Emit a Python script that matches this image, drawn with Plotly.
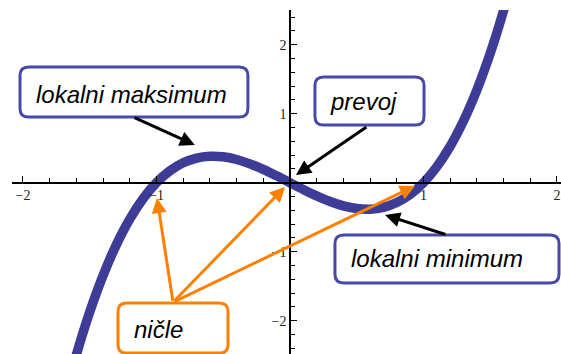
import plotly.graph_objects as go

# Curve samples
curve_x = [-1.7, -1.6, -1.5, -1.4, -1.3, -1.2, -1.1, -1.0, -0.9, -0.8, -0.7, -0.6, -0.5, -0.4, -0.3, -0.2, -0.1,
           0.0, 0.1, 0.2, 0.3, 0.4, 0.5, 0.6, 0.7, 0.8, 0.9, 1.0, 1.1, 1.2, 1.3, 1.4, 1.5, 1.6, 1.7]
curve_y = [-3.213, -2.496, -1.875, -1.344, -0.897, -0.528, -0.231, 0.0, 0.171, 0.288, 0.357, 0.384, 0.375, 0.336,
           0.273, 0.192, 0.099, 0.0, -0.099, -0.192, -0.273, -0.336, -0.375, -0.384, -0.357, -0.288, -0.171, 0.0,
           0.231, 0.528, 0.897, 1.344, 1.875, 2.496, 3.213]

x_tick_vals = [-2, -1, 1, 2]
x_tick_text = ["\u22122", "\u22121", "1", "2"]
y_tick_vals = [-2, -1, 1, 2]
y_tick_text = ["\u22122", "\u22121", "1", "2"]

labels = ["lokalni maksimum", "prevoj", "lokalni minimum", "ni\u010dle"]

XR = [-2.082, 2.030]
YR = [-2.483, 2.503]

NAVY = "#3d3d98"
BOX_BLUE = "#4848aa"
ORANGE = "#ff8000"

fig = go.Figure()
fig.add_trace(go.Scatter(x=curve_x, y=curve_y, mode="lines", line=dict(color=NAVY, width=9.5, shape="spline"),
                         hoverinfo="skip", showlegend=False))


def rounded_box(x0, x1, y0, y1, rx=0.065, ry=0.125):
    # y0 bottom, y1 top
    return (f"M {x0+rx},{y1} L {x1-rx},{y1} Q {x1},{y1} {x1},{y1-ry} "
            f"L {x1},{y0+ry} Q {x1},{y0} {x1-rx},{y0} "
            f"L {x0+rx},{y0} Q {x0},{y0} {x0},{y0+ry} "
            f"L {x0},{y1-ry} Q {x0},{y1} {x0+rx},{y1} Z")


boxes = [
    (-2.022, -0.315, 0.952, 1.677, BOX_BLUE),
    (0.187, 1.004, 0.836, 1.532, BOX_BLUE),
    (0.337, 2.015, -1.453, -0.758, BOX_BLUE),
    (-1.288, -0.464, -2.47, -1.745, ORANGE),
]
for (x0, x1, y0, y1, c) in boxes:
    fig.add_shape(type="path", path=rounded_box(x0, x1, y0, y1), xref="x", yref="y",
                  line=dict(color=c, width=3), fillcolor="white", layer="above")

text_pos = [(-1.185, 1.28), (0.548, 1.18), (1.098, -1.10), (-0.985, -2.13)]
for t, (tx, ty) in zip(labels, text_pos):
    fig.add_annotation(x=tx, y=ty, xref="x", yref="y", text=f"<i>{t}</i>", showarrow=False,
                       font=dict(family="Liberation Sans, Arial", size=24, color="black"),
                       xanchor="center", yanchor="middle")

# arrows: (tail, tip, colour, width)
arrows = [
    ((-1.176, 0.952), (-0.712, 0.546), "black", 3),
    ((0.584, 0.822), (0.045, 0.11), "black", 3),
    ((1.176, -0.758), (0.712, -0.468), "black", 3),
    ((-0.876, -1.733), (-0.996, -0.222), ORANGE, 3),
    ((-0.876, -1.733), (-0.037, -0.062), ORANGE, 3),
    ((-0.876, -1.733), (0.936, -0.048), ORANGE, 3),
]
for (tail, tip, c, w) in arrows:
    fig.add_annotation(x=tip[0], y=tip[1], ax=tail[0], ay=tail[1], xref="x", yref="y", axref="x", ayref="y",
                       text="", showarrow=True, arrowhead=2, arrowsize=1, arrowwidth=w, arrowcolor=c)

tick_font = dict(family="Liberation Serif, Times New Roman", size=14, color="#222")
x0_frac = (0 - XR[0]) / (XR[1] - XR[0])
y0_frac = (0 - YR[0]) / (YR[1] - YR[0])

fig.update_layout(
    width=561, height=354,
    margin=dict(l=12, r=0, t=10, b=0),
    paper_bgcolor="white", plot_bgcolor="white",
    showlegend=False,
    xaxis=dict(range=XR, anchor="free", position=y0_frac, showgrid=False, zeroline=False, automargin=False,
               showline=True, linecolor="black", linewidth=1.5,
               tickvals=x_tick_vals, ticktext=x_tick_text, ticks="inside", ticklen=6, tickwidth=1,
               tickcolor="black", tickfont=tick_font,
               minor=dict(tick0=0, dtick=0.2, ticks="inside", ticklen=4, tickwidth=1, tickcolor="black",
                          showgrid=False)),
    yaxis=dict(range=YR, anchor="free", position=x0_frac, showgrid=False, zeroline=False, automargin=False,
               showline=True, linecolor="black", linewidth=1.5,
               tickvals=y_tick_vals, ticktext=y_tick_text, ticks="inside", ticklen=6, tickwidth=1,
               tickcolor="black", tickfont=tick_font,
               minor=dict(tick0=0, dtick=0.2, ticks="inside", ticklen=4, tickwidth=1, tickcolor="black",
                          showgrid=False)),
)

fig.write_html("out.html", config={"displayModeBar": False},
               post_script="document.body.style.margin='0';document.body.style.padding='0';")
